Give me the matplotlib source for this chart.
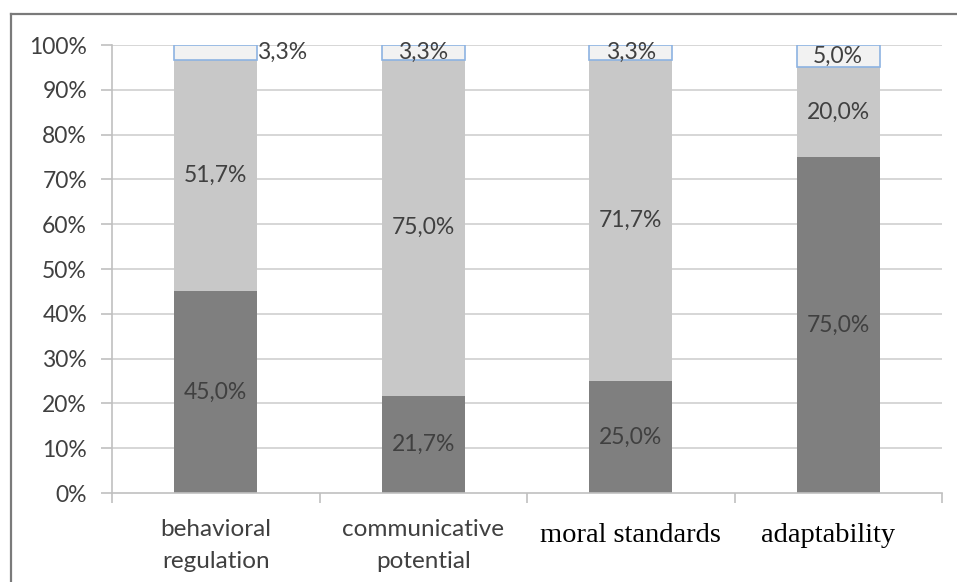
import matplotlib
matplotlib.use("Agg")
import matplotlib.pyplot as plt
from matplotlib.lines import Line2D

categories = ["behavioral\nregulation", "communicative\npotential", "moral standards", "adaptability"]
serif_labels = [False, False, True, True]
low = [45.0, 21.7, 25.0, 75.0]
mid = [51.7, 75.0, 71.7, 20.0]
high = [3.3, 3.3, 3.3, 5.0]
yticks = [0, 10, 20, 30, 40, 50, 60, 70, 80, 90, 100]

W, H = 957, 582
fig = plt.figure(figsize=(W / 100, H / 100), dpi=100)
fig.patch.set_facecolor("white")

# outer chart frame (top and left edges visible)
fig.add_artist(Line2D([11 / W, 1.0], [1 - 14 / H, 1 - 14 / H], color="#7a7a7a", lw=1.6, transform=fig.transFigure))
fig.add_artist(Line2D([11 / W, 11 / W], [0.0, 1 - 14 / H], color="#7a7a7a", lw=1.6, transform=fig.transFigure))

ax = fig.add_axes([112 / W, 1 - 493 / H, (942 - 112) / W, (493 - 45) / H])
ax.set_xlim(-0.5, len(categories) - 0.5)
ax.set_ylim(0, 100)

font_sans = "Lato"
label_color = "#404040"
fs = 16.5

x = list(range(len(categories)))
bw = 0.4
ax.bar(x, low, width=bw, color="#7f7f7f", zorder=3)
ax.bar(x, mid, width=bw, bottom=low, color="#c8c8c8", zorder=3)
tops = [l + m for l, m in zip(low, mid)]
ax.bar(x, high, width=bw, bottom=tops, color="#f2f2f2", edgecolor="#8db3e2", linewidth=1.2, zorder=3)

def fmt(v):
    return f"{v:.1f}%".replace(".", ",")

for i in x:
    ax.text(i, low[i] / 2, fmt(low[i]), ha="center", va="center", fontsize=fs,
            family=font_sans, color=label_color, zorder=5)
    ax.text(i, low[i] + mid[i] / 2, fmt(mid[i]), ha="center", va="center", fontsize=fs,
            family=font_sans, color=label_color, zorder=5)
    if i == 0:
        ax.text(i + bw / 2, tops[i] + high[i] / 2, fmt(high[i]), ha="left", va="center",
                fontsize=fs, family=font_sans, color=label_color, zorder=5)
    else:
        ax.text(i, tops[i] + high[i] / 2, fmt(high[i]), ha="center", va="center", fontsize=fs,
                family=font_sans, color=label_color, zorder=5)

# gridlines
for t in yticks[1:]:
    ax.axhline(t, color="#d0d0d0", lw=1.2, zorder=1)

for s in ["top", "right", "bottom"]:
    ax.spines[s].set_visible(False)
ax.spines["left"].set_color("#c0c0c0")
ax.spines["left"].set_linewidth(1.2)

ax.set_yticks(yticks)
ax.set_yticklabels([f"{t}%" for t in yticks], fontsize=fs, family=font_sans, color=label_color)
ax.tick_params(axis="y", length=8, width=1.2, color="#c0c0c0", pad=10)

# category axis with boundary tick marks
ax.axhline(0, color="#c0c0c0", lw=1.2, zorder=4, clip_on=False)
ax.set_xticks([b - 0.5 for b in range(len(categories) + 1)])
ax.set_xticklabels([])
ax.tick_params(axis="x", length=7, width=1.2, color="#c0c0c0")

for i, (c, is_serif) in enumerate(zip(categories, serif_labels)):
    if is_serif:
        xc = i - 0.05 if i == 3 else i
        ax.text(xc, -9.5, c, ha="center", va="center", fontsize=20.5, family="Liberation Serif",
                color="black", transform=ax.transData, clip_on=False)
    else:
        ax.text(i, -5.8, c, ha="center", va="top", fontsize=17.5, family=font_sans,
                color=label_color, linespacing=1.65, transform=ax.transData, clip_on=False)

fig.savefig("out.png", dpi=100, facecolor="white")
